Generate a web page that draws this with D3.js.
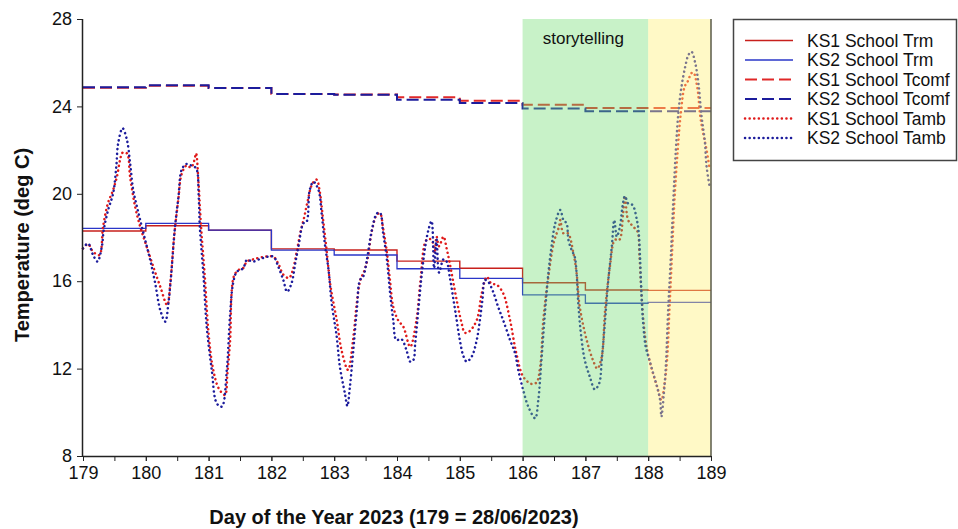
<!DOCTYPE html>
<html>
<head>
<meta charset="utf-8">
<script src="https://cdn.jsdelivr.net/npm/d3@7"></script>
<style>
  html, body { margin: 0; padding: 0; background: #fff; }
  svg text { font-family: Arial, "Liberation Sans", sans-serif; }
</style>
</head>
<body>
<svg id="chart" width="958" height="529"></svg>
<script>
// Day boundaries for the daily step series (running mean and comfort temperature)
const stepDays = [179, 180, 181, 182, 183, 184, 185, 186, 187, 188, 189];

// Running mean temperature, one value per day (last repeated to close the step)
const ks1Trm = [18.30, 18.54, 18.33, 17.48, 17.43, 16.92, 16.59, 15.93, 15.60, 15.58, 15.58];
const ks2Trm = [18.42, 18.65, 18.34, 17.42, 17.20, 16.57, 16.13, 15.37, 14.99, 15.03, 15.03];

// Comfort temperature, one value per day
const ks1Tcomf = [24.85, 24.95, 24.84, 24.57, 24.54, 24.42, 24.26, 24.08, 23.93, 23.93, 23.93];
const ks2Tcomf = [24.88, 24.97, 24.84, 24.57, 24.53, 24.31, 24.16, 23.90, 23.78, 23.78, 23.78];

// Ambient temperature readings [day, deg C]
const ks1Tamb = [
  [179.00,17.5],[179.08,17.7],[179.16,17.35],[179.26,17.2],[179.32,18.5],[179.40,19.6],
  [179.47,20.1],[179.54,20.78],[179.59,21.55],[179.63,21.88],[179.70,21.85],[179.75,20.78],
  [179.83,19.41],[179.91,18.5],[180.00,17.7],[180.12,16.66],[180.23,15.75],[180.34,14.91],
  [180.39,15.9],[180.45,18.0],[180.52,19.8],[180.57,20.9],[180.65,21.3],[180.72,21.2],
  [180.77,21.5],[180.80,21.85],[180.84,20.5],[180.88,18.5],[180.94,16.2],[181.00,13.6],
  [181.07,12.0],[181.16,11.1],[181.26,10.79],[181.30,11.8],[181.34,13.17],[181.40,16.2],
  [181.47,16.5],[181.55,16.6],[181.61,16.9],[181.71,17.0],[181.85,17.1],[182.03,17.12],
  [182.11,16.8],[182.19,16.3],[182.28,16.15],[182.34,16.5],[182.40,17.3],[182.46,18.2],
  [182.52,18.9],[182.58,19.7],[182.65,20.45],[182.72,20.65],[182.77,20.1],[182.82,18.9],
  [182.88,17.4],[182.94,15.8],[183.04,14.22],[183.12,12.8],[183.22,11.94],[183.30,13.3],
  [183.36,15.0],[183.42,16.1],[183.47,16.4],[183.53,17.0],[183.60,18.3],[183.68,19.05],
  [183.73,19.1],[183.78,18.4],[183.84,17.3],[183.89,16.0],[183.94,14.83],[184.02,14.2],
  [184.10,13.92],[184.21,13.0],[184.31,14.22],[184.37,15.9],[184.47,17.89],[184.55,17.9],
  [184.60,17.3],[184.63,18.04],[184.67,17.6],[184.74,18.04],[184.79,17.5],[184.84,16.82],
  [184.95,15.14],[185.03,14.07],[185.08,13.64],[185.15,13.7],[185.27,14.22],[185.35,15.45],
  [185.43,16.2],[185.50,15.9],[185.59,15.83],[185.69,15.45],[185.80,14.22],[185.90,12.7],
  [186.01,11.63],[186.14,11.3],[186.22,11.36],[186.28,12.09],[186.33,14.22],[186.41,16.2],
  [186.50,17.81],[186.58,18.5],[186.60,18.8],[186.65,18.19],[186.72,18.2],[186.81,17.27],
  [186.86,16.36],[186.91,14.83],[187.02,13.31],[187.12,12.39],[187.19,12.0],[187.26,12.54],
  [187.31,14.53],[187.39,16.66],[187.47,17.89],[187.54,17.89],[187.60,19.1],[187.63,19.9],
  [187.68,18.8],[187.76,18.5],[187.83,18.27],[187.86,17.2],[187.89,15.6],[187.93,14.0],
  [187.98,12.9],[188.06,11.94],[188.14,11.2],[188.21,10.56],[188.26,11.3],[188.30,12.39],
  [188.34,14.8],[188.38,17.3],[188.42,19.8],[188.47,22.0],[188.52,23.7],[188.58,24.9],
  [188.64,25.2],[188.68,25.5],[188.72,25.55],[188.78,24.9],[188.83,23.53],[188.88,22.7],
  [188.93,22.0],[188.98,21.1]
];
const ks2Tamb = [
  [179.00,17.5],[179.08,17.73],[179.16,17.2],[179.23,16.9],[179.30,17.58],[179.33,18.34],
  [179.40,19.26],[179.48,20.02],[179.53,21.24],[179.56,22.31],[179.63,23.0],[179.70,22.46],
  [179.75,21.4],[179.80,20.17],[179.86,19.4],[179.91,18.8],[179.99,17.89],[180.07,16.97],
  [180.15,15.9],[180.23,14.68],[180.31,14.15],[180.36,14.99],[180.41,16.5],[180.46,18.34],
  [180.52,19.87],[180.57,21.09],[180.64,21.36],[180.70,21.32],[180.80,21.17],[180.84,20.02],
  [180.86,18.5],[180.92,16.2],[180.97,13.92],[181.05,11.94],[181.13,10.41],[181.21,10.26],
  [181.29,11.94],[181.34,14.38],[181.39,15.9],[181.45,16.43],[181.55,16.59],[181.61,16.97],
  [181.71,16.9],[181.85,17.05],[182.03,17.12],[182.11,16.66],[182.19,16.05],[182.25,15.52],
  [182.32,15.9],[182.38,16.82],[182.43,17.58],[182.51,18.65],[182.56,18.72],[182.61,20.17],
  [182.67,20.55],[182.75,20.17],[182.80,19.1],[182.85,17.73],[182.91,16.51],[182.96,14.99],
  [183.04,13.46],[183.09,12.09],[183.17,10.87],[183.21,10.29],[183.25,11.17],[183.30,12.7],
  [183.36,14.68],[183.41,16.05],[183.46,16.2],[183.52,16.97],[183.60,18.34],[183.68,19.1],
  [183.73,19.13],[183.78,18.19],[183.84,16.97],[183.89,15.45],[183.94,14.22],[183.99,13.31],
  [184.07,13.35],[184.15,12.85],[184.21,12.32],[184.26,12.39],[184.29,13.16],[184.34,14.68],
  [184.39,16.2],[184.45,17.58],[184.50,18.34],[184.55,18.75],[184.59,16.6],[184.63,17.9],
  [184.67,16.4],[184.74,17.0],[184.79,16.9],[184.84,16.2],[184.90,15.14],[184.95,14.22],
  [185.00,13.31],[185.06,12.55],[185.11,12.32],[185.19,12.55],[185.27,13.31],[185.32,14.22],
  [185.36,15.14],[185.40,16.05],[185.45,15.98],[185.53,15.52],[185.61,14.83],[185.69,14.22],
  [185.80,13.31],[185.88,12.7],[185.93,11.94],[186.01,11.02],[186.09,10.26],[186.20,9.73],
  [186.25,10.56],[186.30,12.39],[186.36,14.68],[186.41,16.36],[186.46,17.58],[186.52,18.65],
  [186.60,19.26],[186.65,18.8],[186.70,18.65],[186.73,17.89],[186.78,17.43],[186.83,17.12],
  [186.86,16.36],[186.89,14.83],[186.94,13.31],[186.99,12.39],[187.07,11.63],[187.15,11.05],
  [187.22,11.33],[187.26,12.39],[187.31,14.07],[187.36,15.9],[187.42,17.58],[187.46,18.8],
  [187.50,18.04],[187.55,18.5],[187.59,19.41],[187.63,19.9],[187.68,19.56],[187.75,19.49],
  [187.82,18.8],[187.85,18.19],[187.87,17.12],[187.89,15.6],[187.92,14.07],[187.96,13.0],
  [188.02,12.39],[188.08,11.78],[188.14,11.17],[188.19,10.56],[188.21,9.8],[188.25,10.87],
  [188.28,12.09],[188.32,14.83],[188.36,17.12],[188.40,19.72],[188.44,22.0],[188.48,23.68],
  [188.53,24.9],[188.59,25.82],[188.64,26.35],[188.69,26.5],[188.75,25.97],[188.80,25.06],
  [188.85,23.53],[188.90,22.46],[188.93,21.24],[188.98,20.3]
];

// Highlighted periods
const periods = [
  { from: 186, to: 188, label: "storytelling", fill: "rgb(110,220,110)", opacity: 0.38 },
  { from: 188, to: 189, label: "",             fill: "rgb(255,240,120)", opacity: 0.42 }
];

const xTicks = d3.range(179, 190, 1);
const xMinorTicks = d3.range(179, 189.01, 0.5);
const yTicks = [8, 12, 16, 20, 24, 28];

const seriesNames = ["KS1 School Trm", "KS2 School Trm", "KS1 School Tcomf",
                     "KS2 School Tcomf", "KS1 School Tamb", "KS2 School Tamb"];

// ---- layout ----
const svg = d3.select("#chart");
const plot = { left: 83, right: 711, top: 19, bottom: 456 };

const x = d3.scaleLinear().domain([179, 189]).range([plot.left, plot.right]);
const y = d3.scaleLinear().domain([8, 28]).range([plot.bottom, plot.top]);

const BLUE = "#2a36c8", NAVY = "#1c1c9c", RED_DOT = "#e01a1a";

const styles = [
  { color: "#c8201c", width: 1.4, dash: null },
  { color: BLUE,      width: 1.3, dash: null },
  { color: "#e02828", width: 2.0, dash: "12,5" },
  { color: NAVY,      width: 2.0, dash: "12,5" },
  { color: RED_DOT,   width: 2.5, dash: "0.1,4.5", cap: "round" },
  { color: NAVY,      width: 2.5, dash: "0.1,4.5", cap: "round" }
];

const stepLine = d3.line()
  .x(d => x(d[0])).y(d => y(d[1]))
  .curve(d3.curveStepAfter);

const smoothLine = d3.line()
  .x(d => x(d[0])).y(d => y(d[1]))
  .curve(d3.curveCatmullRom.alpha(0.5));

const zipDays = vals => stepDays.map((d, i) => [d, vals[i]]);

const seriesData = [
  { data: zipDays(ks1Trm),   gen: stepLine },
  { data: zipDays(ks2Trm),   gen: stepLine },
  { data: zipDays(ks1Tcomf), gen: stepLine },
  { data: zipDays(ks2Tcomf), gen: stepLine },
  { data: ks1Tamb,           gen: smoothLine },
  { data: ks2Tamb,           gen: smoothLine }
];

const lines = svg.append("g");
seriesData.forEach((s, i) => {
  const st = styles[i];
  lines.append("path")
    .attr("d", s.gen(s.data))
    .attr("fill", "none")
    .attr("stroke", st.color)
    .attr("stroke-width", st.width)
    .attr("stroke-dasharray", st.dash)
    .attr("stroke-linecap", st.cap || "butt");
});

// translucent period bands laid over the lines
const bands = svg.append("g");
periods.forEach(p => {
  bands.append("rect")
    .attr("x", x(p.from)).attr("y", plot.top)
    .attr("width", x(p.to) - x(p.from))
    .attr("height", plot.bottom - plot.top)
    .attr("fill", p.fill).attr("fill-opacity", p.opacity);
  if (p.label) {
    bands.append("text")
      .attr("x", (x(p.from) + x(p.to)) / 2 - 2)
      .attr("y", 44)
      .attr("text-anchor", "middle")
      .attr("font-size", 17)
      .attr("fill", "#111")
      .text(p.label);
  }
});
// right edge of the plot
svg.append("line")
  .attr("x1", plot.right).attr("x2", plot.right)
  .attr("y1", plot.top).attr("y2", plot.bottom)
  .attr("stroke", "#5a5a48").attr("stroke-width", 1.5);

// ---- axes ----
const xAxis = svg.append("g")
  .attr("transform", `translate(0,${plot.bottom})`)
  .call(d3.axisBottom(x).tickValues(xMinorTicks).tickSize(5).tickFormat(""));
xAxis.select(".domain").remove();
svg.append("g")
  .attr("transform", `translate(0,${plot.bottom})`)
  .call(d3.axisBottom(x).tickValues(xTicks).tickSize(5).tickPadding(5).tickFormat(d3.format("d")))
  .call(g => g.selectAll("text").attr("font-size", 18).attr("fill", "#111"))
  .call(g => g.select(".domain").attr("d", `M${plot.left},0.5H${plot.right}`));

svg.append("g")
  .attr("transform", `translate(${plot.left},0)`)
  .call(d3.axisLeft(y).tickValues(yTicks).tickSize(6).tickPadding(5))
  .call(g => g.selectAll("text").attr("font-size", 18).attr("fill", "#111"))
  .call(g => g.select(".domain").attr("d", `M-0.5,${plot.top}V${plot.bottom}`));

svg.selectAll(".tick line").attr("stroke", "#222");
svg.selectAll(".domain").attr("stroke", "#222").attr("stroke-width", 1.5);

// axis titles
svg.append("text")
  .attr("x", 394).attr("y", 524)
  .attr("text-anchor", "middle")
  .attr("font-size", 20).attr("font-weight", "bold").attr("fill", "#111")
  .text("Day of the Year 2023 (179 = 28/06/2023)");

svg.append("text")
  .attr("transform", "translate(29,245) rotate(-90)")
  .attr("text-anchor", "middle")
  .attr("font-size", 20).attr("font-weight", "bold").attr("fill", "#111")
  .text("Temperature (deg C)");

// ---- legend ----
const legend = svg.append("g");
legend.append("rect")
  .attr("x", 733.5).attr("y", 19.5).attr("width", 223).attr("height", 141)
  .attr("fill", "#fff").attr("stroke", "#444").attr("stroke-width", 1.5);
seriesNames.forEach((name, i) => {
  const st = styles[i];
  const yy = 40.5 + i * 19.5;
  legend.append("line")
    .attr("x1", 745).attr("x2", 793).attr("y1", yy).attr("y2", yy)
    .attr("stroke", st.color).attr("stroke-width", st.width)
    .attr("stroke-dasharray", st.dash).attr("stroke-linecap", st.cap || "butt");
  legend.append("text")
    .attr("x", 807).attr("y", yy + 6)
    .attr("font-size", 17.5).attr("fill", "#111")
    .text(name);
});
</script>
</body>
</html>
